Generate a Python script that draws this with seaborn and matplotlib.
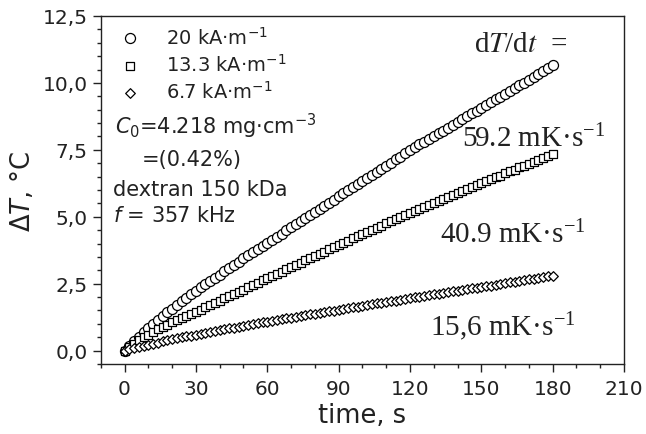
import matplotlib
matplotlib.use("Agg")
import seaborn as sns
import matplotlib.pyplot as plt
from matplotlib.ticker import MultipleLocator

# time axis (s), one reading every 2 s
time_s = list(range(0, 181, 2))

# temperature rise (deg C), 20 kA/m
dT_20 = [0.00, 0.18, 0.35, 0.52, 0.69, 0.85, 1.00, 1.15, 1.29, 1.43,
         1.57, 1.70, 1.84, 1.97, 2.10, 2.23, 2.36, 2.48, 2.60, 2.72,
         2.84, 2.96, 3.08, 3.20, 3.32, 3.44, 3.56, 3.67, 3.79, 3.91,
         4.02, 4.14, 4.25, 4.37, 4.49, 4.60, 4.72, 4.83, 4.95, 5.06,
         5.18, 5.30, 5.41, 5.53, 5.64, 5.76, 5.87, 5.99, 6.10, 6.22,
         6.33, 6.45, 6.56, 6.68, 6.79, 6.91, 7.02, 7.14, 7.25, 7.37,
         7.48, 7.59, 7.70, 7.80, 7.91, 8.01, 8.12, 8.22, 8.33, 8.43,
         8.54, 8.64, 8.75, 8.86, 8.96, 9.07, 9.17, 9.28, 9.38, 9.49,
         9.59, 9.70, 9.80, 9.91, 10.01, 10.12, 10.22, 10.33, 10.43, 10.54,
         10.65]

# 13.3 kA/m
dT_13 = [0.00, 0.13, 0.26, 0.38, 0.49, 0.60, 0.70, 0.79, 0.88, 0.97,
         1.05, 1.13, 1.21, 1.29, 1.37, 1.45, 1.53, 1.62, 1.70, 1.78,
         1.87, 1.95, 2.03, 2.12, 2.20, 2.28, 2.37, 2.45, 2.53, 2.62,
         2.70, 2.78, 2.87, 2.95, 3.03, 3.12, 3.20, 3.28, 3.37, 3.45,
         3.53, 3.62, 3.70, 3.78, 3.87, 3.95, 4.03, 4.11, 4.19, 4.27,
         4.35, 4.43, 4.51, 4.59, 4.67, 4.75, 4.83, 4.91, 4.99, 5.07,
         5.15, 5.22, 5.30, 5.37, 5.44, 5.52, 5.59, 5.66, 5.74, 5.81,
         5.88, 5.96, 6.03, 6.10, 6.18, 6.25, 6.32, 6.40, 6.47, 6.54,
         6.62, 6.69, 6.76, 6.84, 6.91, 6.98, 7.06, 7.13, 7.20, 7.28,
         7.35]

# 6.7 kA/m
dT_6 = [0.00, 0.05, 0.09, 0.14, 0.18, 0.22, 0.26, 0.30, 0.34, 0.38,
        0.42, 0.46, 0.49, 0.53, 0.56, 0.60, 0.63, 0.67, 0.70, 0.73,
        0.77, 0.80, 0.83, 0.86, 0.89, 0.92, 0.96, 0.99, 1.02, 1.05,
        1.08, 1.11, 1.14, 1.17, 1.20, 1.23, 1.26, 1.29, 1.32, 1.35,
        1.38, 1.41, 1.44, 1.46, 1.49, 1.52, 1.55, 1.58, 1.61, 1.64,
        1.67, 1.70, 1.73, 1.76, 1.79, 1.81, 1.84, 1.87, 1.90, 1.93,
        1.96, 1.99, 2.02, 2.04, 2.07, 2.10, 2.13, 2.15, 2.18, 2.21,
        2.24, 2.27, 2.29, 2.32, 2.35, 2.38, 2.41, 2.43, 2.46, 2.49,
        2.52, 2.55, 2.57, 2.60, 2.63, 2.66, 2.69, 2.71, 2.74, 2.77,
        2.80]

field_labels = ["20 kA·m$^{-1}$", "13.3 kA·m$^{-1}$", "6.7 kA·m$^{-1}$"]
rate_labels = ["59.2 mK·s$^{-1}$", "40.9 mK·s$^{-1}$", "15,6 mK·s$^{-1}$"]
x_ticks = [0, 30, 60, 90, 120, 150, 180, 210]
y_ticks = [0.0, 2.5, 5.0, 7.5, 10.0, 12.5]
y_tick_labels = ["0,0", "2,5", "5,0", "7,5", "10,0", "12,5"]

sns.set_theme(style="ticks")
plt.rcParams["font.family"] = ["DejaVu Sans"]
plt.rcParams["mathtext.default"] = "regular"

fig = plt.figure(figsize=(6.46, 4.35), dpi=100)
ax = fig.add_axes([0.156, 0.161, 0.81, 0.8])

sns.scatterplot(x=time_s, y=dT_20, marker="o", s=52, color="white",
                edgecolor="black", linewidth=0.9, label=field_labels[0], ax=ax)
sns.scatterplot(x=time_s, y=dT_13, marker="s", s=28, color="white",
                edgecolor="black", linewidth=0.9, label=field_labels[1], ax=ax)
sns.scatterplot(x=time_s, y=dT_6, marker="D", s=24, color="white",
                edgecolor="black", linewidth=0.9, label=field_labels[2], ax=ax)

ax.set_xlim(-10, 210)
ax.set_ylim(-0.5, 12.5)
ax.set_xticks(x_ticks)
ax.set_yticks(y_ticks)
ax.set_yticklabels(y_tick_labels)
ax.xaxis.set_minor_locator(MultipleLocator(10))
ax.yaxis.set_minor_locator(MultipleLocator(0.5))
ax.tick_params(which="major", direction="out", length=5.5, width=1,
               labelsize=14.5, color="#222222", labelcolor="#222222")
ax.tick_params(which="minor", direction="out", length=3, width=1, color="#222222")
ax.tick_params(axis="x", which="major", pad=5)
ax.tick_params(axis="y", which="major", pad=4)
for side in ["top", "right", "bottom", "left"]:
    ax.spines[side].set_visible(True)
    ax.spines[side].set_color("#222222")
    ax.spines[side].set_linewidth(1.0)

ax.set_xlabel("time, s", fontsize=18.5, color="#222222", labelpad=3)
ax.set_ylabel(r"$\Delta\mathit{T}$, °C", fontsize=18.5, color="#222222", labelpad=5)

leg = ax.legend(loc="upper left", bbox_to_anchor=(0.0, 1.0), frameon=False,
                fontsize=14, handletextpad=0.85, labelspacing=0.27,
                borderaxespad=0.3, borderpad=0.2)
for t in leg.get_texts():
    t.set_color("#222222")

# sample description
info = dict(transform=ax.transAxes, fontsize=15, color="#222222", va="center", ha="left")
ax.text(0.027, 0.685, r"$\mathit{C}_0$=4.218 mg·cm$^{-3}$", **info)
ax.text(0.078, 0.589, "=(0.42%)", **info)
ax.text(0.023, 0.503, "dextran 150 kDa", **info)
ax.text(0.023, 0.428, r"$\mathit{f}$ = 357 kHz", **info)

# heating rates
serif = dict(fontsize=21, color="#222222", va="center", ha="left",
             family="Liberation Serif", math_fontfamily="stix")
ax.text(147, 11.46, r"d$\mathit{T}$/d$\mathit{t}$  =", **serif)
ax.text(142, 7.95, rate_labels[0], **serif)
ax.text(132.6, 4.36, rate_labels[1], **serif)
ax.text(128.4, 0.95, rate_labels[2], **serif)

plt.savefig("out.png", dpi=100)
